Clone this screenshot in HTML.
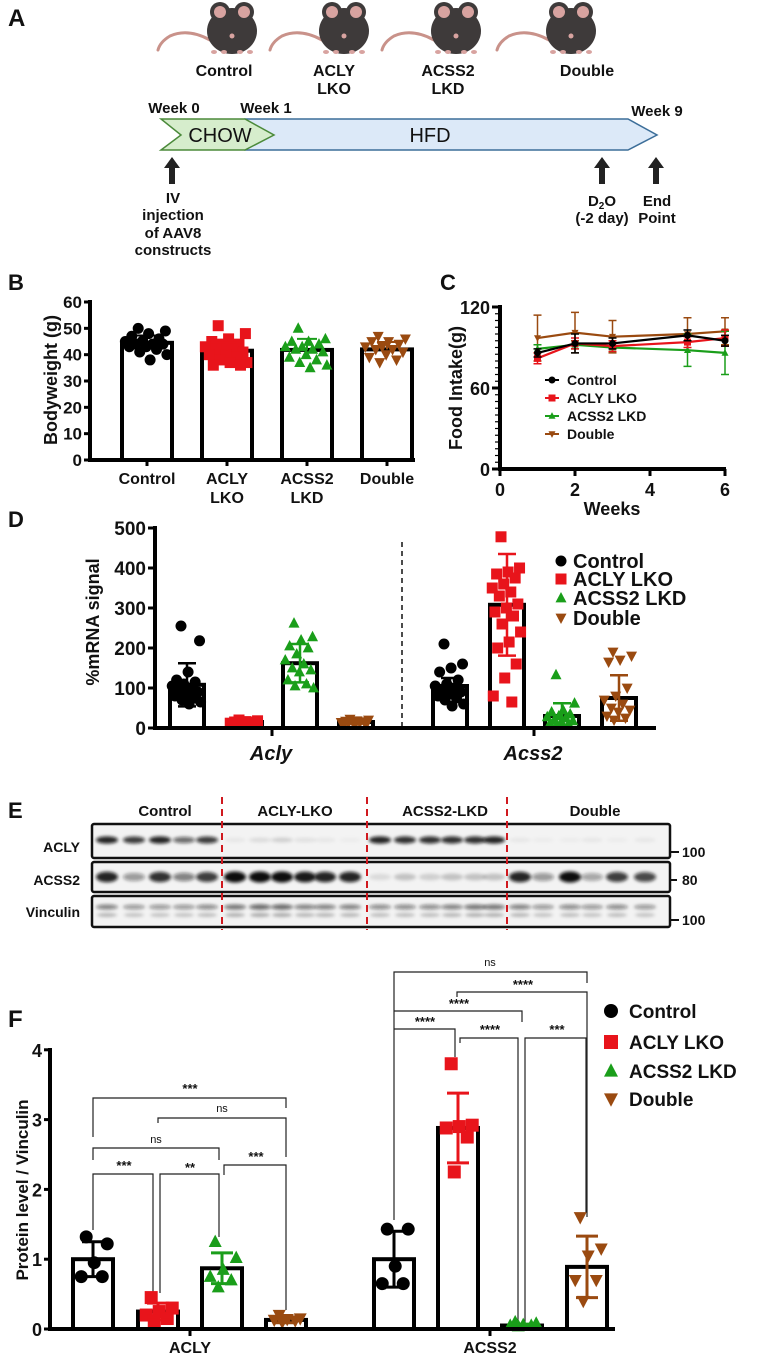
<!DOCTYPE html>
<html><head><meta charset="utf-8">
<style>
html,body{margin:0;padding:0;background:#fff;}
svg{display:block;}
text{font-family:"Liberation Sans Narrow","Liberation Sans",sans-serif;font-weight:bold;fill:#111;}
</style></head>
<body>
<svg id="fig" width="777" height="1369" viewBox="0 0 777 1369" xmlns="http://www.w3.org/2000/svg">
<defs>
<filter id="blur1" x="-50%" y="-100%" width="200%" height="300%"><feGaussianBlur stdDeviation="1.6"/></filter>
</defs>
<!-- Panel A -->
<g>
<text x="8" y="26" font-size="24" font-family="Liberation Sans">A</text>
<g id="mice"></g>
<text x="224" y="76" font-size="16" text-anchor="middle">Control</text>
<text x="334" y="76" font-size="16" text-anchor="middle">ACLY</text>
<text x="334" y="94" font-size="16" text-anchor="middle">LKO</text>
<text x="448" y="76" font-size="16" text-anchor="middle">ACSS2</text>
<text x="448" y="94" font-size="16" text-anchor="middle">LKD</text>
<text x="587" y="76" font-size="16" text-anchor="middle">Double</text>
<text x="174" y="113" font-size="15" text-anchor="middle">Week 0</text>
<text x="266" y="113" font-size="15" text-anchor="middle">Week 1</text>
<text x="657" y="116" font-size="15" text-anchor="middle">Week 9</text>
<polygon points="245,119 628,119 657,135 628,150 245,150" fill="#dce9f8" stroke="#3c6e99" stroke-width="1.5"/>
<polygon points="161,119 245,119 274,135 245,150 161,150 181,135" fill="#d6edcc" stroke="#4b8a3a" stroke-width="1.5"/>
<text x="220" y="142" font-size="20" text-anchor="middle" style="font-weight:normal">CHOW</text>
<text x="430" y="142" font-size="20" text-anchor="middle" style="font-weight:normal">HFD</text>
<g fill="#222">
<polygon points="172,157 180,168 175,168 175,184 169,184 169,168 164,168"/>
<polygon points="602,157 610,168 605,168 605,184 599,184 599,168 594,168"/>
<polygon points="656,157 664,168 659,168 659,184 653,184 653,168 648,168"/>
</g>
<g font-size="15" text-anchor="middle">
<text x="173" y="203">IV</text><text x="173" y="220">injection</text><text x="173" y="238">of AAV8</text><text x="173" y="255">constructs</text>
</g>
<text x="602" y="206" font-size="15" text-anchor="middle">D<tspan font-size="10" dy="3">2</tspan><tspan dy="-3">O</tspan></text>
<text x="602" y="223" font-size="15" text-anchor="middle">(-2 day)</text>
<text x="657" y="206" font-size="15" text-anchor="middle">End</text>
<text x="657" y="223" font-size="15" text-anchor="middle">Point</text>
</g>

<!-- Panel B -->
<g id="panelB">
<text x="8" y="290" font-size="22" font-family="Liberation Sans">B</text>
<text transform="translate(57,380) rotate(-90)" font-size="18" text-anchor="middle" font-family="Liberation Sans">Bodyweight (g)</text>
</g>
<!-- Panel C -->
<g id="panelC">
<text x="440" y="290" font-size="22" font-family="Liberation Sans">C</text>
<text transform="translate(462,388) rotate(-90)" font-size="18" text-anchor="middle" font-family="Liberation Sans">Food Intake(g)</text>
<text x="612" y="515" font-size="18" text-anchor="middle">Weeks</text>
</g>
<!-- Panel D -->
<g id="panelD">
<text x="8" y="527" font-size="22" font-family="Liberation Sans">D</text>
<text transform="translate(99,622) rotate(-90)" font-size="18" text-anchor="middle" font-family="Liberation Sans">%mRNA signal</text>
<line x1="402" y1="542" x2="402" y2="728" stroke="#111" stroke-width="1.5" stroke-dasharray="5,4"/>
<text x="271" y="760" font-size="20" font-style="italic" text-anchor="middle">Acly</text>
<text x="533" y="760" font-size="20" font-style="italic" text-anchor="middle">Acss2</text>
</g>
<!-- Panel E -->
<g id="panelE">
<text x="8" y="818" font-size="22" font-family="Liberation Sans">E</text>
<g font-size="15" text-anchor="middle">
<text x="165" y="816">Control</text>
<text x="295" y="816">ACLY-LKO</text>
<text x="445" y="816">ACSS2-LKD</text>
<text x="595" y="816">Double</text>
</g>
<g font-size="14" text-anchor="end">
<text x="80" y="852">ACLY</text>
<text x="80" y="885">ACSS2</text>
<text x="80" y="917">Vinculin</text>
</g>
<g font-size="14">
<line x1="671" y1="852" x2="679" y2="852" stroke="#111" stroke-width="2"/>
<text x="682" y="857">100</text>
<line x1="671" y1="880" x2="677" y2="880" stroke="#111" stroke-width="2"/>
<text x="682" y="885">80</text>
<line x1="671" y1="920" x2="679" y2="920" stroke="#111" stroke-width="2"/>
<text x="682" y="925">100</text>
</g>
</g>
<!-- Panel F -->
<g id="panelF">
<text x="8" y="1027" font-size="24" font-family="Liberation Sans">F</text>
<text transform="translate(28,1190) rotate(-90)" font-size="17" text-anchor="middle" font-family="Liberation Sans">Protein level / Vinculin</text>
<text x="190" y="1353" font-size="16" text-anchor="middle">ACLY</text>
<text x="490" y="1353" font-size="16" text-anchor="middle">ACSS2</text>
<g fill="none" stroke="#222" stroke-width="1.2">
<path d="M93,1137 V1098 H286 V1108"/>
<path d="M158,1123 V1118 H286 V1157"/>
<path d="M93,1160 V1148 H219 V1160"/>
<path d="M93,1230 V1174 H153 V1293"/>
<path d="M160,1293 V1174 H219 V1237"/>
<path d="M224,1175 V1165 H286 V1310"/>
<path d="M394,1220 V972 H587 V983"/>
<path d="M457,997 V992 H587 V1217"/>
<path d="M394,1011 H522 V1022"/>
<path d="M394,1029 H455 V1057"/>
<path d="M460,1043 V1038 H518 V1323"/>
<path d="M525,1323 V1038 H586 V1213"/>
</g>
<g font-size="13" text-anchor="middle">
<text x="190" y="1093">***</text><text x="222" y="1112" font-size="11" style="font-weight:normal">ns</text>
<text x="156" y="1143" font-size="11" style="font-weight:normal">ns</text><text x="124" y="1170">***</text>
<text x="190" y="1172">**</text><text x="256" y="1161">***</text>
<text x="490" y="966" font-size="11" style="font-weight:normal">ns</text><text x="523" y="989">****</text>
<text x="459" y="1008">****</text><text x="425" y="1026">****</text>
<text x="490" y="1034">****</text><text x="557" y="1034">***</text>
</g>
</g>
</svg>
<script>
const NS='http://www.w3.org/2000/svg';
const svg=document.getElementById('fig');
function el(tag,attrs,parent){const e=document.createElementNS(NS,tag);for(const k in attrs)e.setAttribute(k,attrs[k]);(parent||svg).appendChild(e);return e;}
function txt(x,y,s,size,anchor,parent){const t=el('text',{x:x,y:y,'font-size':size,'text-anchor':anchor||'start'},parent);t.textContent=s;return t;}
function marker(shape,x,y,r,color,parent){
  let m;
  if(shape==='circle')m=el('circle',{cx:x,cy:y,r:r,fill:color},parent);
  else if(shape==='square')m=el('rect',{x:x-r,y:y-r,width:2*r,height:2*r,fill:color},parent);
  else if(shape==='up')m=el('polygon',{points:`${x},${y-r*1.1} ${x+r},${y+r*0.8} ${x-r},${y+r*0.8}`,fill:color},parent);
  else m=el('polygon',{points:`${x},${y+r*1.1} ${x+r},${y-r*0.8} ${x-r},${y-r*0.8}`,fill:color},parent);
  return m;
}
function jit(i,n){if(n<2)return 0;return ((i*0.618034+0.3)%1)-0.5;}
const COLORS=['#000000','#e8141b','#1a9e1a','#9a4a10'];
const SHAPES=['circle','square','up','down'];
const GROUPS=['Control','ACLY LKO','ACSS2 LKD','Double'];

/* ---- mice ---- */
const mice=document.getElementById('mice');
[228,340,452,567].forEach((cx,i)=>{
  const g=el('g',{},mice);
  
  
  el('path',{d:`M${cx-18},40 Q${cx-40},28 ${cx-58},36 Q${cx-68},42 ${cx-70},50`,fill:'none',stroke:'#c9928a','stroke-width':3,'stroke-linecap':'round'},g);
  el('ellipse',{cx:cx+4,cy:31,rx:25,ry:23,fill:'#3e3a3a'},g);
  el('circle',{cx:cx-8,cy:12,r:10,fill:'#3e3a3a'},g);
  el('circle',{cx:cx+16,cy:12,r:10,fill:'#3e3a3a'},g);
  el('circle',{cx:cx-8,cy:12,r:6,fill:'#d8a3a0'},g);
  el('circle',{cx:cx+16,cy:12,r:6,fill:'#d8a3a0'},g);
  el('circle',{cx:cx+4,cy:36,r:2.5,fill:'#d8a3a0'},g);
  [cx-14,cx-4,cx+12,cx+22].forEach(fx=>el('ellipse',{cx:fx,cy:52,rx:3,ry:2,fill:'#d8a3a0'},g));
});

/* ---- Panel B data ---- */
const bCats=['Control','ACLY\nLKO','ACSS2\nLKD','Double'];
const bMeans=[44.5,41.5,41.8,42];
const bSD=[2.8,3.2,4.2,2.8];
const bCtrl=[50,49,48,47,46,45,45,44,44,44,43,43,42,41,40,38];
const bAcly=[51,48,46,45,44,44,43,42,42,41,40,40,39,38,37,37,36,36];
const bAcss2=[50,46,45,45,44,43,43,42,42,41,40,39,38,37,36,35];
const bDbl=[47,46,45,45,44,43,43,42,42,41,40,39,38,37];
const bTicks=[0,10,20,30,40,50,60];
(function(){
  const g=document.getElementById('panelB');
  const y=v=>460-v*(158/60);
  const x=i=>147+i*80;
  const pts=[bCtrl,bAcly,bAcss2,bDbl];
  bCats.forEach((c,i)=>{
    const r=el('rect',{x:x(i)-25,y:y(bMeans[i]),width:50,height:460-y(bMeans[i]),fill:'#fff',stroke:'#000','stroke-width':4},g);
    
    
    pts[i].forEach((v,k)=>{
      const m=marker(SHAPES[i],x(i)+jit(k,pts[i].length)*44,y(v),5.5,COLORS[i],g);
      
      
    });
    const e=el('path',{d:`M${x(i)},${y(bMeans[i])} V${y(bMeans[i]+bSD[i])} M${x(i)-10},${y(bMeans[i]+bSD[i])} H${x(i)+10}`,stroke:COLORS[i],'stroke-width':2,fill:'none'},g);
    
    
    c.split('\n').forEach((ln,j)=>{const t=txt(x(i),484+j*19,ln,16,'middle',g);
      
      });
  });
  el('path',{d:'M90,300 V462 M88,460 H415',stroke:'#000','stroke-width':4,fill:'none'},g);
  bTicks.forEach(v=>{el('line',{x1:84,x2:90,y1:y(v),y2:y(v),stroke:'#000','stroke-width':3},g);
    const t=txt(82,y(v)+6,String(v),17,'end',g);
    
    });
  for(let i=0;i<4;i++)el('line',{x1:x(i),x2:x(i),y1:460,y2:466,stroke:'#000','stroke-width':3},g);
})();

/* ---- Panel C data ---- */
const cWeeks=[1,2,3,5,6];
const cCtrl=[86,93,93,99,95];
const cAcly=[82,93,91,94,97];
const cAcss2=[89,92,90,88,86];
const cDbl=[97,101,98,100,102];
const cCtrlSD=[3,7,4,4,4];
const cAclySD=[4,4,4,4,6];
const cAcss2SD=[3,3,3,12,16];
const cDblSD=[17,15,12,12,10];
const cYTicks=[0,60,120];
const cXTicks=[0,2,4,6];
(function(){
  const g=document.getElementById('panelC');
  const x=w=>500+w*37.5, y=v=>469-v*1.35;
  const series=[[cCtrl,cCtrlSD],[cAcly,cAclySD],[cAcss2,cAcss2SD],[cDbl,cDblSD]];
  const order=[3,2,1,0];
  order.forEach(s=>{
    const [vals,sd]=series[s];
    vals.forEach((v,k)=>{
      const e=el('path',{d:`M${x(cWeeks[k])},${y(v-sd[k])} V${y(v+sd[k])} M${x(cWeeks[k])-4},${y(v+sd[k])} H${x(cWeeks[k])+4} M${x(cWeeks[k])-4},${y(v-sd[k])} H${x(cWeeks[k])+4}`,stroke:COLORS[s],'stroke-width':1.5,fill:'none'},g);
      
      
    });
    const line=el('polyline',{points:vals.map((v,k)=>x(cWeeks[k])+','+y(v)).join(' '),fill:'none',stroke:COLORS[s],'stroke-width':2.2},g);
    
    
    vals.forEach((v,k)=>{const m=marker(SHAPES[s],x(cWeeks[k]),y(v),3.5,COLORS[s],g);
      
      });
  });
  el('path',{d:'M500,305 V471 M498,469 H726',stroke:'#000','stroke-width':4,fill:'none'},g);
  for(let v=0;v<=120;v+=5)el('line',{x1:495,x2:500,y1:y(v),y2:y(v),stroke:'#000','stroke-width':1.2},g);
  cYTicks.forEach(v=>{el('line',{x1:492,x2:500,y1:y(v),y2:y(v),stroke:'#000','stroke-width':3},g);
    const t=txt(490,y(v)+7,String(v),18,'end',g);
    
    });
  cXTicks.forEach(w=>{el('line',{x1:x(w),x2:x(w),y1:469,y2:476,stroke:'#000','stroke-width':3},g);
    const t=txt(x(w),496,String(w),18,'middle',g);
    
    });
  const ly=[380,398,416,434];
  GROUPS.forEach((n,i)=>{
    el('line',{x1:545,x2:559,y1:ly[i],y2:ly[i],stroke:COLORS[i],'stroke-width':2},g);
    marker(SHAPES[i],552,ly[i],3.5,COLORS[i],g);
    const t=txt(567,ly[i]+5,n,14,'start',g);
    
    
  });
})();

/* ---- Panel D data ---- */
const dGenes=['Acly','Acss2'];
const dMeans=[[108,15,162,15],[105,308,30,75]];
const dSD=[[54,4,48,4],[20,127,32,57]];
const dAclyCtrl=[255,218,140,120,115,110,105,100,95,90,85,80,75,70,65,60];
const dAclyAcly=[20,18,16,15,14,13,12,12,11,10,10,9];
const dAclyAcss2=[262,228,220,205,200,185,170,160,150,145,140,120,110,105,100];
const dAclyDbl=[22,20,18,17,16,15,14,13,12,12,11,10];
const dAcss2Ctrl=[210,160,150,140,120,110,105,100,95,90,85,80,75,70,60,55];
const dAcss2Acly=[478,400,390,385,375,360,350,340,330,310,300,290,280,260,240,215,200,160,125,80,65];
const dAcss2Acss2=[133,62,45,40,35,30,28,25,20,18,15,12,10,8];
const dAcss2Dbl=[190,180,170,165,100,80,70,60,50,45,40,30,25,20];
const dTicks=[0,100,200,300,400,500];
(function(){
  const g=document.getElementById('panelD');
  const y=v=>728-v*0.4;
  const centers=[[187,245,300,356],[450,507,562,619]];
  const pts=[[dAclyCtrl,dAclyAcly,dAclyAcss2,dAclyDbl],[dAcss2Ctrl,dAcss2Acly,dAcss2Acss2,dAcss2Dbl]];
  for(let gi=0;gi<2;gi++)for(let i=0;i<4;i++){
    const cx=centers[gi][i], m=dMeans[gi][i], sd=dSD[gi][i];
    const r=el('rect',{x:cx-17,y:y(m),width:34,height:728-y(m),fill:'#fff',stroke:'#000','stroke-width':4},g);
    
    
    pts[gi][i].forEach((v,k)=>{const mk=marker(SHAPES[i],cx+jit(k,pts[gi][i].length)*30,y(v),5.5,COLORS[i],g);
      
      });
    const e=el('path',{d:`M${cx},${y(m-sd)} V${y(m+sd)} M${cx-9},${y(m+sd)} H${cx+9} M${cx-9},${y(m-sd)} H${cx+9}`,stroke:COLORS[i],'stroke-width':2.5,fill:'none'},g);
    
    
  }
  el('path',{d:'M155,526 V730 M153,728 H656',stroke:'#000','stroke-width':4,fill:'none'},g);
  [272,534].forEach(xx=>el('line',{x1:xx,x2:xx,y1:728,y2:736,stroke:'#000','stroke-width':3},g));
  dTicks.forEach(v=>{el('line',{x1:148,x2:155,y1:y(v),y2:y(v),stroke:'#000','stroke-width':3},g);
    const t=txt(146,y(v)+7,String(v),19,'end',g);
    
    });
  const ly=[561,579,598,618];
  GROUPS.forEach((n,i)=>{marker(SHAPES[i],561,ly[i],5.5,COLORS[i],g);
    const t=txt(573,ly[i]+7,n,20,'start',g);
    
    });
})();

/* ---- Panel E blot ---- */
const eLanes=[107,134,160,184,207,235,260,282,305,325,350,380,405,430,452,475,494,520,543,570,592,617,645];
const eAcly=[0.9,0.8,0.9,0.6,0.8,0.05,0.1,0.15,0.08,0.05,0.03,0.9,0.85,0.85,0.85,0.85,0.9,0.05,0.03,0.03,0.05,0.03,0.05];
const eAcss2=[0.9,0.4,0.85,0.5,0.8,1,1,1,0.95,0.9,0.9,0.1,0.2,0.15,0.2,0.2,0.2,0.9,0.4,1,0.35,0.8,0.75];
const eVinc=[0.5,0.4,0.4,0.4,0.45,0.55,0.6,0.6,0.5,0.5,0.5,0.45,0.45,0.45,0.5,0.55,0.55,0.5,0.4,0.45,0.4,0.45,0.4];
(function(){
  const g=document.getElementById('panelE');
  const boxes=[[824,858,eAcly,840,3.5],[862,892,eAcss2,877,5],[896,927,eVinc,907,3]];
  boxes.forEach(([y0,y1,vals,by,h],bi)=>{
    const b=el('rect',{x:92,y:y0,width:578,height:y1-y0,fill:'#f3f3f3',stroke:'#111','stroke-width':2.5,rx:2},g);
    
    
    vals.forEach((v,k)=>{
      const band=el('ellipse',{cx:eLanes[k],cy:by,rx:11,ry:h*(0.6+v*0.5),fill:'#111','fill-opacity':v,filter:'url(#blur1)'},g);
      
      
      if(bi===2){const b2=el('ellipse',{cx:eLanes[k],cy:by+8,rx:10,ry:2,fill:'#111','fill-opacity':v*0.5,filter:'url(#blur1)'},g);
        
        }
    });
  });
  [222,367,507].forEach(xx=>{const l=el('line',{x1:xx,x2:xx,y1:797,y2:930,stroke:'#d0191f','stroke-width':2,'stroke-dasharray':'7,5'},g);
    
    });
})();

/* ---- Panel F data ---- */
const fProteins=['ACLY','ACSS2'];
const fMeans=[[1.0,0.25,0.87,0.13],[1.0,2.88,0.05,0.89]];
const fSD=[[0.25,0.12,0.22,0.04],[0.4,0.5,0.02,0.44]];
const fAclyCtrl=[1.32,1.22,0.95,0.75,0.75];
const fAclyAcly=[0.45,0.3,0.25,0.2,0.15,0.12];
const fAclyAcss2=[1.25,1.02,0.85,0.75,0.7,0.6];
const fAclyDbl=[0.2,0.15,0.14,0.13,0.12,0.1];
const fAcss2Ctrl=[1.43,1.43,0.9,0.65,0.65];
const fAcss2Acly=[3.8,2.92,2.9,2.88,2.75,2.25];
const fAcss2Acss2=[0.1,0.08,0.06,0.05,0.05,0.04];
const fAcss2Dbl=[1.6,1.15,1.05,0.7,0.7,0.4];
const fTicks=[0,1,2,3,4];
(function(){
  const g=document.getElementById('panelF');
  const y=v=>1329-v*69.8;
  const centers=[[93,158,222,286],[394,458,522,587]];
  const pts=[[fAclyCtrl,fAclyAcly,fAclyAcss2,fAclyDbl],[fAcss2Ctrl,fAcss2Acly,fAcss2Acss2,fAcss2Dbl]];
  for(let gi=0;gi<2;gi++)for(let i=0;i<4;i++){
    const cx=centers[gi][i], m=fMeans[gi][i], sd=fSD[gi][i];
    const r=el('rect',{x:cx-20,y:y(m),width:40,height:1329-y(m),fill:'#fff',stroke:'#000','stroke-width':4},g);
    
    
    pts[gi][i].forEach((v,k)=>{const mk=marker(SHAPES[i],cx+jit(k,pts[gi][i].length)*34,y(v),6.5,COLORS[i],g);
      
      });
    const e=el('path',{d:`M${cx},${y(m-sd)} V${y(m+sd)} M${cx-11},${y(m+sd)} H${cx+11} M${cx-11},${y(m-sd)} H${cx+11}`,stroke:COLORS[i],'stroke-width':3,fill:'none'},g);
    
    
  }
  el('path',{d:'M50,1048 V1331 M48,1329 H615',stroke:'#000','stroke-width':4,fill:'none'},g);
  fTicks.forEach(v=>{el('line',{x1:44,x2:50,y1:y(v),y2:y(v),stroke:'#000','stroke-width':3},g);
    const t=txt(42,y(v)+7,String(v),18,'end',g);
    
    });
  [190,490].forEach(xx=>el('line',{x1:xx,x2:xx,y1:1329,y2:1336,stroke:'#000','stroke-width':3},g));
  const ly=[1011,1042,1071,1099];
  GROUPS.forEach((n,i)=>{marker(SHAPES[i],611,ly[i],7,COLORS[i],g);
    const t=txt(629,ly[i]+7,n,19,'start',g);
    
    });
})();
</script>
</body></html>
